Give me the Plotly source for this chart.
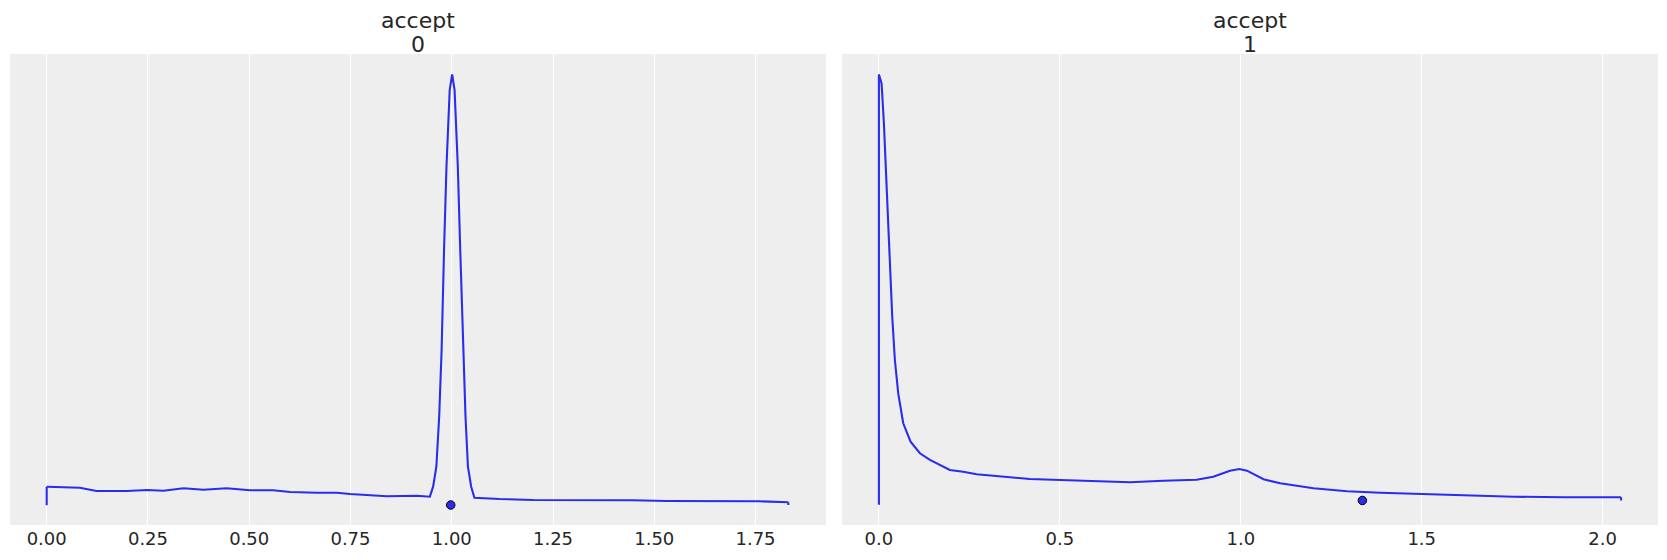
import plotly.graph_objects as go

# ---------------- data ----------------
title_top = ["accept", "accept"]
title_bottom = ["0", "1"]

# panel 0 : KDE of accept[0]
x0 = [0.000, 0.040, 0.082, 0.123, 0.198, 0.248, 0.288, 0.338, 0.387, 0.444,
      0.502, 0.559, 0.601, 0.667, 0.716, 0.749, 0.790, 0.840, 0.914, 0.946,
      0.954, 0.962, 0.969, 0.975, 0.981, 0.987, 0.995, 1.001, 1.007, 1.015,
      1.021, 1.028, 1.034, 1.040, 1.048, 1.056, 1.118, 1.201, 1.324, 1.447,
      1.530, 1.653, 1.760, 1.831]
d0 = [0.489, 0.481, 0.462, 0.374, 0.374, 0.401, 0.382, 0.446, 0.409, 0.446,
      0.393, 0.393, 0.347, 0.328, 0.328, 0.294, 0.275, 0.232, 0.248, 0.222,
      0.489, 1.023, 2.358, 4.139, 6.809, 9.033, 11.08, 11.50, 11.08, 9.033,
      6.809, 4.139, 2.358, 1.023, 0.489, 0.195, 0.160, 0.134, 0.134, 0.125,
      0.107, 0.099, 0.099, 0.072]
est0 = 0.9975

# panel 1 : KDE of accept[1]
x1 = [0.000, 0.0074, 0.0138, 0.0212, 0.0285, 0.0368, 0.0442, 0.0534, 0.0672,
      0.0875, 0.1133, 0.141, 0.196, 0.233, 0.270, 0.325, 0.362, 0.417, 0.509,
      0.602, 0.694, 0.786, 0.878, 0.924, 0.970, 0.996, 1.017, 1.063, 1.109,
      1.201, 1.294, 1.386, 1.478, 1.616, 1.754, 1.893, 2.051]
d1 = [8.20, 8.03, 7.26, 5.98, 4.69, 3.54, 2.70, 2.06, 1.486,
      1.132, 0.909, 0.780, 0.587, 0.554, 0.504, 0.477, 0.447, 0.414, 0.389,
      0.370, 0.350, 0.381, 0.400, 0.458, 0.574, 0.606, 0.574, 0.408, 0.331,
      0.235, 0.177, 0.150, 0.131, 0.092, 0.073, 0.062, 0.062]
est1 = 1.336

ticks0 = [0.0, 0.25, 0.5, 0.75, 1.0, 1.25, 1.5, 1.75]
ticklabels0 = ["0.00", "0.25", "0.50", "0.75", "1.00", "1.25", "1.50", "1.75"]
ticks1 = [0.0, 0.5, 1.0, 1.5, 2.0]
ticklabels1 = ["0.0", "0.5", "1.0", "1.5", "2.0"]

# ---------------- style ----------------
LINE = "#2a2eec"
BG = "#eeeeee"
TXT = "#262626"
FONT = "DejaVu Sans"

fig = go.Figure()

panels = [
    (x0, d0, est0, "x", "y"),
    (x1, d1, est1, "x2", "y2"),
]
for xs, ds, est, xa, ya in panels:
    fig.add_trace(go.Scatter(x=xs, y=ds, mode="lines", xaxis=xa, yaxis=ya,
                             line=dict(color=LINE, width=2.1), showlegend=False,
                             hoverinfo="skip"))
    # outline verticals at both ends (as arviz does)
    fig.add_trace(go.Scatter(x=[xs[0], xs[0]], y=[-ds[0] / 100, ds[0]],
                             mode="lines", xaxis=xa, yaxis=ya,
                             line=dict(color=LINE, width=2.1), showlegend=False))
    fig.add_trace(go.Scatter(x=[xs[-1], xs[-1]], y=[-ds[-1] / 100, ds[-1]],
                             mode="lines", xaxis=xa, yaxis=ya,
                             line=dict(color=LINE, width=2.1), showlegend=False))
    fig.add_trace(go.Scatter(x=[est], y=[0], mode="markers", xaxis=xa, yaxis=ya,
                             marker=dict(color=LINE, size=8.5,
                                         line=dict(color="black", width=1)),
                             showlegend=False))

W, H = 1667, 560
ml, mr, mt, mb = 10, 9, 54, 35
pw = W - ml - mr
d_left = [0, (826 - 10) / pw]
d_right = [(842 - 10) / pw, 1]

common_x = dict(showgrid=True, gridcolor="white", gridwidth=1, zeroline=False,
                showline=False, ticks="", ticklabelstandoff=1, automargin=False,
                tickfont=dict(family=FONT, size=18, color=TXT))
common_y = dict(showgrid=False, zeroline=False, showline=False,
                showticklabels=False, ticks="", automargin=False)

fig.update_layout(
    width=W, height=H,
    margin=dict(l=ml, r=mr, t=mt, b=mb),
    paper_bgcolor="white",
    plot_bgcolor=BG,
    font=dict(family=FONT, color=TXT),
    xaxis=dict(domain=d_left, range=[-0.0906, 1.924], tickvals=ticks0,
               ticktext=ticklabels0, anchor="y", **common_x),
    yaxis=dict(domain=[0, 1], range=[-0.534, 12.043], anchor="x", **common_y),
    xaxis2=dict(domain=d_right, range=[-0.102, 2.153], tickvals=ticks1,
                ticktext=ticklabels1, anchor="y2", **common_x),
    yaxis2=dict(domain=[0, 1], range=[-0.472, 8.595], anchor="x2", **common_y),
)

centers = [(d_left[0] + d_left[1]) / 2, (d_right[0] + d_right[1]) / 2]
for c, t1, t2 in zip(centers, title_top, title_bottom):
    fig.add_annotation(x=c, y=1.0703, xref="paper", yref="paper", text=t1,
                       showarrow=False, xanchor="center", yanchor="middle",
                       font=dict(family=FONT, size=22, color=TXT))
    fig.add_annotation(x=c, y=1.0208, xref="paper", yref="paper", text=t2,
                       showarrow=False, xanchor="center", yanchor="middle",
                       font=dict(family=FONT, size=22, color=TXT))

fig.write_html("out.html", config={"displayModeBar": False},
               post_script="document.body.style.margin='0';document.body.style.overflow='hidden';")
